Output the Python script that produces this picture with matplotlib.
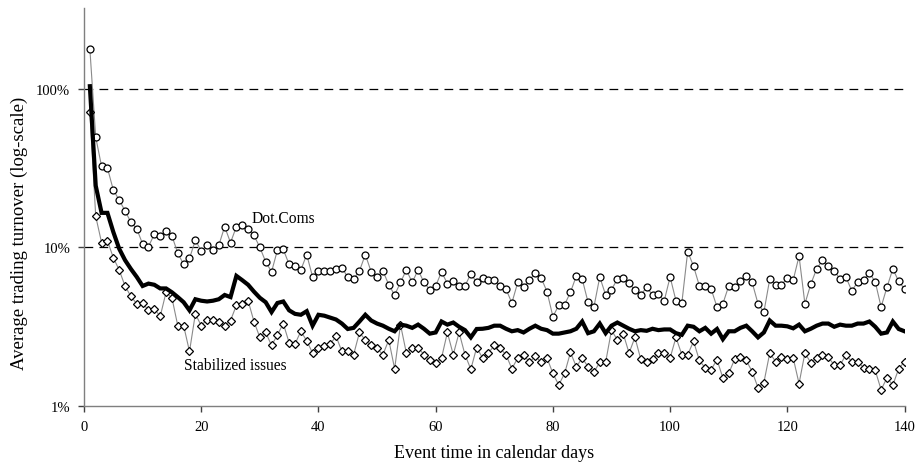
import numpy as np
import matplotlib
matplotlib.use("Agg")
import matplotlib.pyplot as plt
from matplotlib.ticker import FixedLocator, FixedFormatter, NullLocator

plt.rcParams['font.family'] = ['Liberation Serif', 'DejaVu Serif']

days = np.arange(1, 141)

# average turnover in percent
dotcoms = [179, 49.6, 32.4, 31.7, 23, 19.9, 17, 14.4, 13.1, 10.5,
           10.1, 12.1, 11.8, 12.7, 11.8, 9.2, 7.8, 8.5, 11.1, 9.5,
           10.3, 9.6, 10.3, 13.5, 10.7, 13.5, 13.8, 13.1, 11.9, 10.0,
           8.1, 7.0, 9.6, 9.7, 7.8, 7.6, 7.2, 9.0, 6.5, 7.1,
           7.1, 7.1, 7.3, 7.4, 6.5, 6.3, 7.1, 9.0, 7.0, 6.5,
           7.1, 5.8, 5.0, 6.0, 7.2, 6.0, 7.2, 6.0, 5.4, 5.7,
           7.0, 5.9, 6.1, 5.7, 5.7, 6.8, 6.0, 6.4, 6.2, 6.2,
           5.7, 5.45, 4.45, 6.0, 5.6, 6.2, 6.9, 6.4, 5.25, 3.65,
           4.3, 4.35, 5.2, 6.6, 6.3, 4.5, 4.2, 6.5, 5.0, 5.4,
           6.3, 6.4, 5.95, 5.35, 5.0, 5.6, 5.0, 5.05, 4.6, 6.5,
           4.6, 4.45, 9.4, 7.6, 5.7, 5.7, 5.45, 4.2, 4.4, 5.7,
           5.65, 6.1, 6.6, 6.0, 4.4, 3.9, 6.3, 5.8, 5.8, 6.4,
           6.2, 8.8, 4.4, 5.85, 7.3, 8.3, 7.6, 7.1, 6.3, 6.5,
           5.3, 6.05, 6.2, 6.9, 6.05, 4.2, 5.6, 7.3, 6.1, 5.45]

stabilized = [72, 15.7, 10.7, 11, 8.6, 7.2, 5.7, 4.9, 4.4, 4.45,
              4.0, 4.1, 3.66, 5.2, 4.8, 3.2, 3.2, 2.2, 3.8, 3.2,
              3.5, 3.5, 3.4, 3.2, 3.45, 4.3, 4.4, 4.6, 3.4, 2.7,
              2.9, 2.4, 2.8, 3.3, 2.5, 2.45, 2.95, 2.57, 2.15, 2.3,
              2.38, 2.44, 2.75, 2.2, 2.22, 2.1, 2.9, 2.6, 2.4, 2.3,
              2.1, 2.6, 1.71, 3.25, 2.15, 2.3, 2.33, 2.1, 1.93, 1.85,
              2.0, 2.9, 2.1, 2.9, 2.1, 1.7, 2.33, 2.0, 2.15, 2.4,
              2.3, 2.1, 1.71, 2.0, 2.1, 1.88, 2.05, 1.88, 2.0, 1.6,
              1.35, 1.6, 2.17, 1.76, 2.0, 1.76, 1.63, 1.88, 1.88, 3.0,
              2.6, 2.85, 2.15, 2.7, 1.96, 1.88, 1.96, 2.15, 2.15, 2.0,
              2.7, 2.1, 2.1, 2.55, 1.93, 1.73, 1.69, 1.95, 1.5, 1.6,
              1.96, 2.03, 1.93, 1.64, 1.3, 1.4, 2.15, 1.9, 2.03, 1.97,
              2.0, 1.38, 2.15, 1.87, 2.0, 2.1, 2.03, 1.8, 1.8, 2.1,
              1.9, 1.9, 1.74, 1.71, 1.67, 1.26, 1.5, 1.35, 1.71, 1.9]

all_ipos = [104, 24.5, 16.5, 16.5, 12.5, 9.8, 8.3, 7.3, 6.5, 5.7,
            5.9, 5.8, 5.5, 5.5, 5.2, 4.85, 4.5, 4.0, 4.7, 4.6,
            4.55, 4.6, 4.7, 5.0, 4.85, 6.6, 6.2, 5.8, 5.25, 4.8,
            4.5, 3.9, 4.45, 4.55, 4.0, 3.8, 3.75, 3.95, 3.2, 3.75,
            3.7, 3.6, 3.5, 3.3, 3.05, 3.1, 3.4, 3.75, 3.45, 3.3,
            3.2, 3.06, 2.95, 3.25, 3.2, 3.1, 3.25, 3.06, 2.85, 2.9,
            3.4, 3.25, 3.35, 3.15, 3.0, 2.7, 3.05, 3.06, 3.1, 3.2,
            3.2, 3.06, 2.95, 3.0, 2.9, 3.06, 3.2, 3.06, 3.0, 2.85,
            2.85, 2.9, 2.95, 3.06, 3.4, 2.87, 2.95, 3.3, 2.87, 3.2,
            3.35, 3.2, 3.06, 2.95, 3.0, 2.97, 3.06, 3.0, 3.03, 3.03,
            2.87, 2.8, 3.2, 3.15, 2.95, 3.1, 2.85, 3.05, 2.63, 2.95,
            2.95, 3.1, 3.2, 2.95, 2.7, 2.9, 3.45, 3.2, 3.2, 3.17,
            3.08, 3.25, 2.95, 3.06, 3.2, 3.3, 3.3, 3.15, 3.25, 3.2,
            3.2, 3.3, 3.3, 3.4, 3.15, 2.85, 2.9, 3.4, 3.05, 2.95]

y_ticks = [1, 10, 100]
y_labels = ["1%", "10%", "100%"]
x_ticks = [0, 20, 40, 60, 80, 100, 120, 140]

fig = plt.figure(figsize=(9.16, 4.64), dpi=100)
ax = fig.add_axes([0.0917, 0.1235, 0.8958, 0.857])

for level in [10, 100]:
    ax.axhline(level, color='black', lw=0.9, dashes=(7, 5), zorder=1)

ax.plot(days, dotcoms, color='#8a8a8a', lw=0.8, marker='o', ms=5,
        mfc='white', mec='black', mew=0.9, zorder=3)
ax.plot(days, stabilized, color='#8a8a8a', lw=0.8, marker='D', ms=4,
        mfc='white', mec='black', mew=0.9, zorder=3)
ax.plot(days, all_ipos, color='black', lw=3, solid_joinstyle='miter', zorder=4)

ax.set_yscale('log')
ax.set_ylim(1, 324)
ax.set_xlim(0, 140)
ax.yaxis.set_major_locator(FixedLocator(y_ticks))
ax.yaxis.set_major_formatter(FixedFormatter(y_labels))
ax.yaxis.set_minor_locator(NullLocator())
ax.set_xticks(x_ticks)

for side in ['top', 'right']:
    ax.spines[side].set_visible(False)
for side in ['left', 'bottom']:
    ax.spines[side].set_color('#7f7f7f')
    ax.spines[side].set_linewidth(1.0)
ax.tick_params(axis='both', direction='out', length=4, width=1.0,
               color='#404040', labelsize=10.5, pad=6)

ax.text(28.6, 15.4, "Dot.Coms", fontsize=11.2, va='center', ha='left')
ax.text(17.1, 1.8, "Stabilized issues", fontsize=11.2, va='center', ha='left')

ax.set_xlabel("Event time in calendar days", fontsize=13, labelpad=8)
ax.set_ylabel("Average trading turnover (log-scale)", fontsize=13.5)
ax.yaxis.set_label_coords(-0.068, 0.437)

fig.savefig("out.png", dpi=100)
